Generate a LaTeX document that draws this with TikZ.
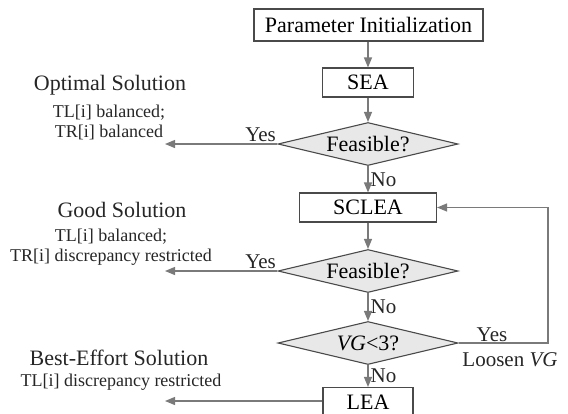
\documentclass[tikz,border=0pt]{standalone}
\usepackage{fontspec}
\setmainfont{Liberation Serif}
\usepackage{xcolor}
\usepackage{tikz}
\usetikzlibrary{shapes.geometric, arrows.meta}

\definecolor{boxgray}{HTML}{4A4A4A}
\definecolor{arrowgray}{HTML}{7A7A7A}
\definecolor{diafill}{HTML}{E8E8E8}

\tikzset{
  procbox/.style={draw=boxgray, line width=1.1pt, fill=white, inner sep=0pt, font=\fontsize{22}{26}\selectfont},
  decision/.style={diamond, draw=boxgray, line width=1.1pt, fill=diafill, aspect=4, inner sep=0pt,
    minimum width=180pt, minimum height=43pt, font=\fontsize{22}{26}\selectfont},
  flow/.style={draw=arrowgray, line width=1.2pt, -{Triangle[length=10pt,width=8pt]}},
  lbl/.style={font=\fontsize{21}{24}\selectfont, text=black!85, inner sep=2pt},
  headtxt/.style={font=\fontsize{22}{26}\selectfont, text=black!85, inner sep=0pt},
  detailtxt/.style={font=\fontsize{18}{20}\selectfont, text=black!85, align=center, inner sep=0pt}
}

\begin{document}
\begin{tikzpicture}[x=1pt, y=-1pt]
        \useasboundingbox (0,0) rectangle (568,413);

        % Main column
        \node[procbox, minimum width=229pt, minimum height=32pt] (init) at (368.5,25) {Parameter Initialization};
        \node[procbox, minimum width=91pt, minimum height=29pt] (sea) at (368,82.5) {SEA};
        \node[decision] (feas1) at (368,144) {Feasible?};
        \node[procbox, minimum width=137pt, minimum height=29pt] (sclea) at (368,207.5) {SCLEA};
        \node[decision] (feas2) at (368,271) {Feasible?};
        \node[decision] (vgtest) at (368,343) {\textit{VG}<3?};
        \node[procbox, minimum width=90pt, minimum height=29pt] (lea) at (368,402) {LEA};

        % Solutions on the left
        \node[headtxt] (optimal) at (110,85) {Optimal Solution};
        \node[detailtxt] (optimaldet) at (109,122) {TL[i] balanced;\\TR[i] balanced};
        \node[headtxt] (good) at (122,210) {Good Solution};
        \node[detailtxt] (gooddet) at (111,247.5) {TL[i] balanced;\\TR[i] discrepancy restricted};
        \node[headtxt] (besteffort) at (119,358) {Best-Effort Solution};
        \node[detailtxt] (besteffortdet) at (121,382) {TL[i] discrepancy restricted};

        % Free ends of the exits
        \coordinate (exit1) at (165,144);
        \coordinate (exit2) at (165,271);
        \coordinate (exit3) at (165,401);
        \coordinate (loopc) at (548,343);

        % Downward flow
        \draw[flow] (init.south -| sea) -- (sea);
        \draw[flow] (sea) -- (feas1);
        \draw[flow] (feas1) -- (sclea) node[lbl, midway, right] (no1) {No};
        \draw[flow] (sclea) -- (feas2);
        \draw[flow] (feas2) -- (vgtest) node[lbl, midway, right] (no2) {No};
        \draw[flow] (vgtest) -- (lea) node[lbl, midway, right] (no3) {No};

        % Exits to the solutions
        \draw[flow] (feas1.west) -- (exit1) node[lbl, pos=0, above left, xshift=1pt] (yes1) {Yes};
        \draw[flow] (feas2.west) -- (exit2) node[lbl, pos=0, above left, xshift=1pt] (yes2) {Yes};
        \draw[flow] (lea.west |- exit3) -- (exit3);

        % Loop back to SCLEA
        \draw[flow] (vgtest.east) -- (loopc) |- (sclea.east);
        \node[lbl] (yes3) at (492,335) {Yes};
        \node[lbl] (loosen) at (510,360) {Loosen \textit{VG}};
    \end{tikzpicture}
\end{document}
